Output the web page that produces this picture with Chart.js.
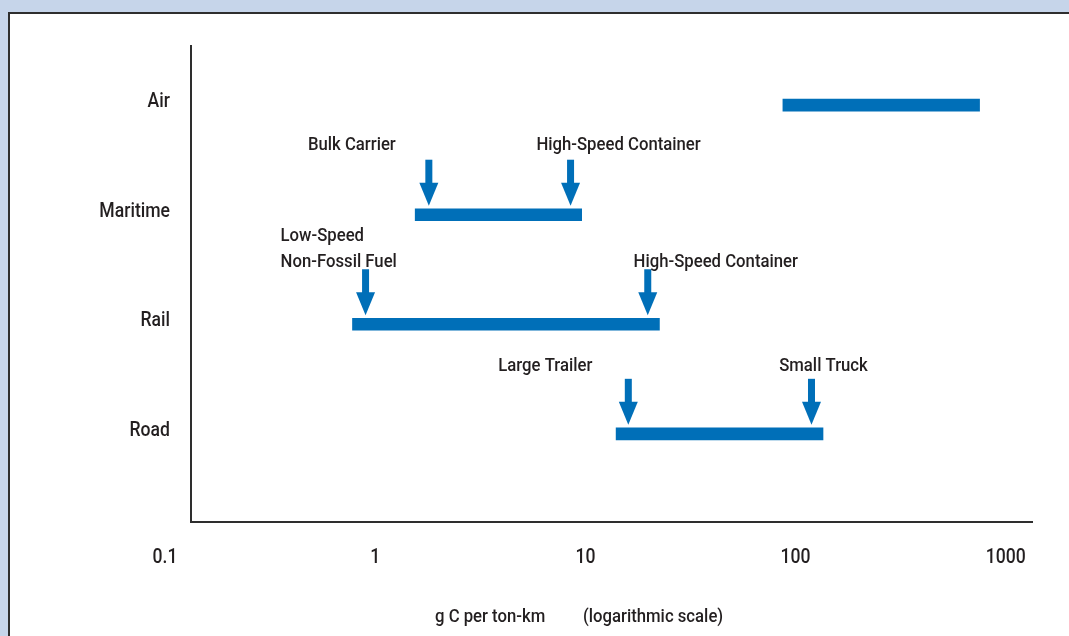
<!DOCTYPE html>
<html>
<head>
<meta charset="utf-8">
<script src="https://cdn.jsdelivr.net/npm/chart.js@4/dist/chart.umd.min.js"></script>
<style>
  html, body { margin: 0; padding: 0; background: #c6d5ea; }
  #wrap { position: relative; width: 1069px; height: 636px; }
</style>
</head>
<body>
<div id="wrap"><canvas id="c" width="1069" height="636"></canvas></div>
<script>
// Transport modes, top to bottom, and their emission ranges (g C per ton-km)
const modes = ['Air', 'Maritime', 'Rail', 'Road'];
const rangeLow = [87, 1.55, 0.78, 14];
const rangeHigh = [750, 9.6, 22.5, 135];

// Marked vehicle types within each range
const markerMode = ['Maritime', 'Maritime', 'Rail', 'Rail', 'Road', 'Road'];
const markerValue = [1.8, 8.5, 0.9, 19.8, 16, 119];
const markerText = [
  ['Bulk Carrier'],
  ['High-Speed Container'],
  ['Low-Speed', 'Non-Fossil Fuel'],
  ['High-Speed Container'],
  ['Large Trailer'],
  ['Small Truck']
];

// Logarithmic axis labels
const tickValues = [0.1, 1, 10, 100, 1000];
const axisTitle = ['g C per ton-km', '(logarithmic scale)'];

// Text placement for each marker label, relative to its arrow (pixels)
const markerLabelLayout = [
  { dx: -77, dy: -65, align: 'center' },
  { dx: 48, dy: -65, align: 'center' },
  { dx: -85, dy: -57, align: 'left' },
  { dx: 68, dy: -57, align: 'center' },
  { dx: -83, dy: -63, align: 'center' },
  { dx: 12, dy: -63, align: 'center' }
];

const FONT = 'Roboto, "Liberation Sans", Arial, sans-serif';
const SX = 0.88;            // horizontal squeeze for a condensed look
const TEXT = '#231f20';
const BLUE = '#006fb8';
const AXIS = '#2e2e2e';

// Rows are placed on a numeric axis: first mode at the top
const rowOf = name => modes.length - modes.indexOf(name);

const rangeData = modes.map((m, i) => ({ x: [rangeLow[i], rangeHigh[i]], y: rowOf(m) }));

function drawText(ctx, str, x, y, align, size) {
  ctx.save();
  ctx.font = '500 ' + size + 'px ' + FONT;
  ctx.fillStyle = TEXT;
  ctx.textAlign = align;
  ctx.textBaseline = 'alphabetic';
  ctx.translate(x, y);
  ctx.scale(SX, 1);
  ctx.fillText(str, 0, 0);
  ctx.restore();
}

const panelPlugin = {
  id: 'panel',
  beforeDraw(chart) {
    const ctx = chart.ctx;
    ctx.save();
    ctx.fillStyle = '#c6d5ea';
    ctx.fillRect(0, 0, chart.width, chart.height);
    ctx.fillStyle = '#ffffff';
    ctx.fillRect(9, 13, chart.width, chart.height);
    ctx.strokeStyle = AXIS;
    ctx.lineWidth = 2;
    ctx.beginPath();
    ctx.moveTo(9, chart.height + 5);
    ctx.lineTo(9, 13);
    ctx.lineTo(chart.width + 5, 13);
    ctx.stroke();
    ctx.restore();
  }
};

const labelPlugin = {
  id: 'labels',
  afterDraw(chart) {
    const ctx = chart.ctx;
    const xs = chart.scales.x, ys = chart.scales.y;

    // category names beside the vertical axis
    ys.ticks.forEach(t => {
      drawText(ctx, modes[modes.length - t.value], xs.left - 21, ys.getPixelForValue(t.value) + 2, 'right', 20);
    });
    // decade labels under the horizontal axis
    xs.ticks.forEach(t => {
      drawText(ctx, String(t.value), xs.getPixelForValue(t.value), ys.bottom + 40.5, 'center', 20);
    });
    // axis title
    drawText(ctx, axisTitle[0], 435, 621.5, 'left', 19);
    drawText(ctx, axisTitle[1], 583, 621.5, 'left', 19);
  }
};

const markerPlugin = {
  id: 'markers',
  afterDatasetsDraw(chart) {
    const ctx = chart.ctx;
    const xs = chart.scales.x, ys = chart.scales.y;
    const barHalf = 6;
    ctx.save();
    markerValue.forEach((v, i) => {
      const px = xs.getPixelForValue(v);
      const cy = ys.getPixelForValue(rowOf(markerMode[i]));
      const tip = cy - barHalf - 3;
      const top = tip - 46;
      const headH = 23, headW = 19, shaftW = 7;
      ctx.fillStyle = BLUE;
      ctx.fillRect(px - shaftW / 2, top, shaftW, tip - headH - top + 1);
      ctx.beginPath();
      ctx.moveTo(px - headW / 2, tip - headH);
      ctx.lineTo(px + headW / 2, tip - headH);
      ctx.lineTo(px, tip);
      ctx.closePath();
      ctx.fill();

      const lay = markerLabelLayout[i];
      const lines = markerText[i];
      lines.forEach((t, k) => {
        const y = cy + lay.dy - (lines.length - 1 - k) * 26.7;
        drawText(ctx, t, px + lay.dx, y, lay.align, 19);
      });
    });
    ctx.restore();
  }
};

new Chart(document.getElementById('c'), {
  type: 'bar',
  data: {
    datasets: [{
      data: rangeData,
      backgroundColor: BLUE,
      borderWidth: 0,
      barThickness: 12
    }]
  },
  options: {
    indexAxis: 'y',
    responsive: false,
    animation: false,
    events: [],
    layout: { padding: { left: 0, right: 37, top: 46, bottom: 0 } },
    plugins: { legend: { display: false }, tooltip: { enabled: false } },
    scales: {
      x: {
        type: 'logarithmic',
        min: 0.133,
        max: 1332,
        offset: false,
        grid: { display: false, drawTicks: false },
        border: { display: true, color: AXIS, width: 2 },
        afterBuildTicks: s => { s.ticks = tickValues.map(v => ({ value: v })); },
        afterFit: s => { s.height = 114; },
        ticks: { display: false, autoSkip: false }
      },
      y: {
        type: 'linear',
        min: 0.195,
        max: 4.54,
        offset: false,
        grid: { display: false, drawTicks: false },
        border: { display: true, color: AXIS, width: 2 },
        afterBuildTicks: s => { s.ticks = modes.map(m => ({ value: rowOf(m) })); },
        afterFit: s => { s.width = 191; },
        ticks: { display: false, autoSkip: false }
      }
    }
  },
  plugins: [panelPlugin, markerPlugin, labelPlugin]
});
</script>
</body>
</html>
